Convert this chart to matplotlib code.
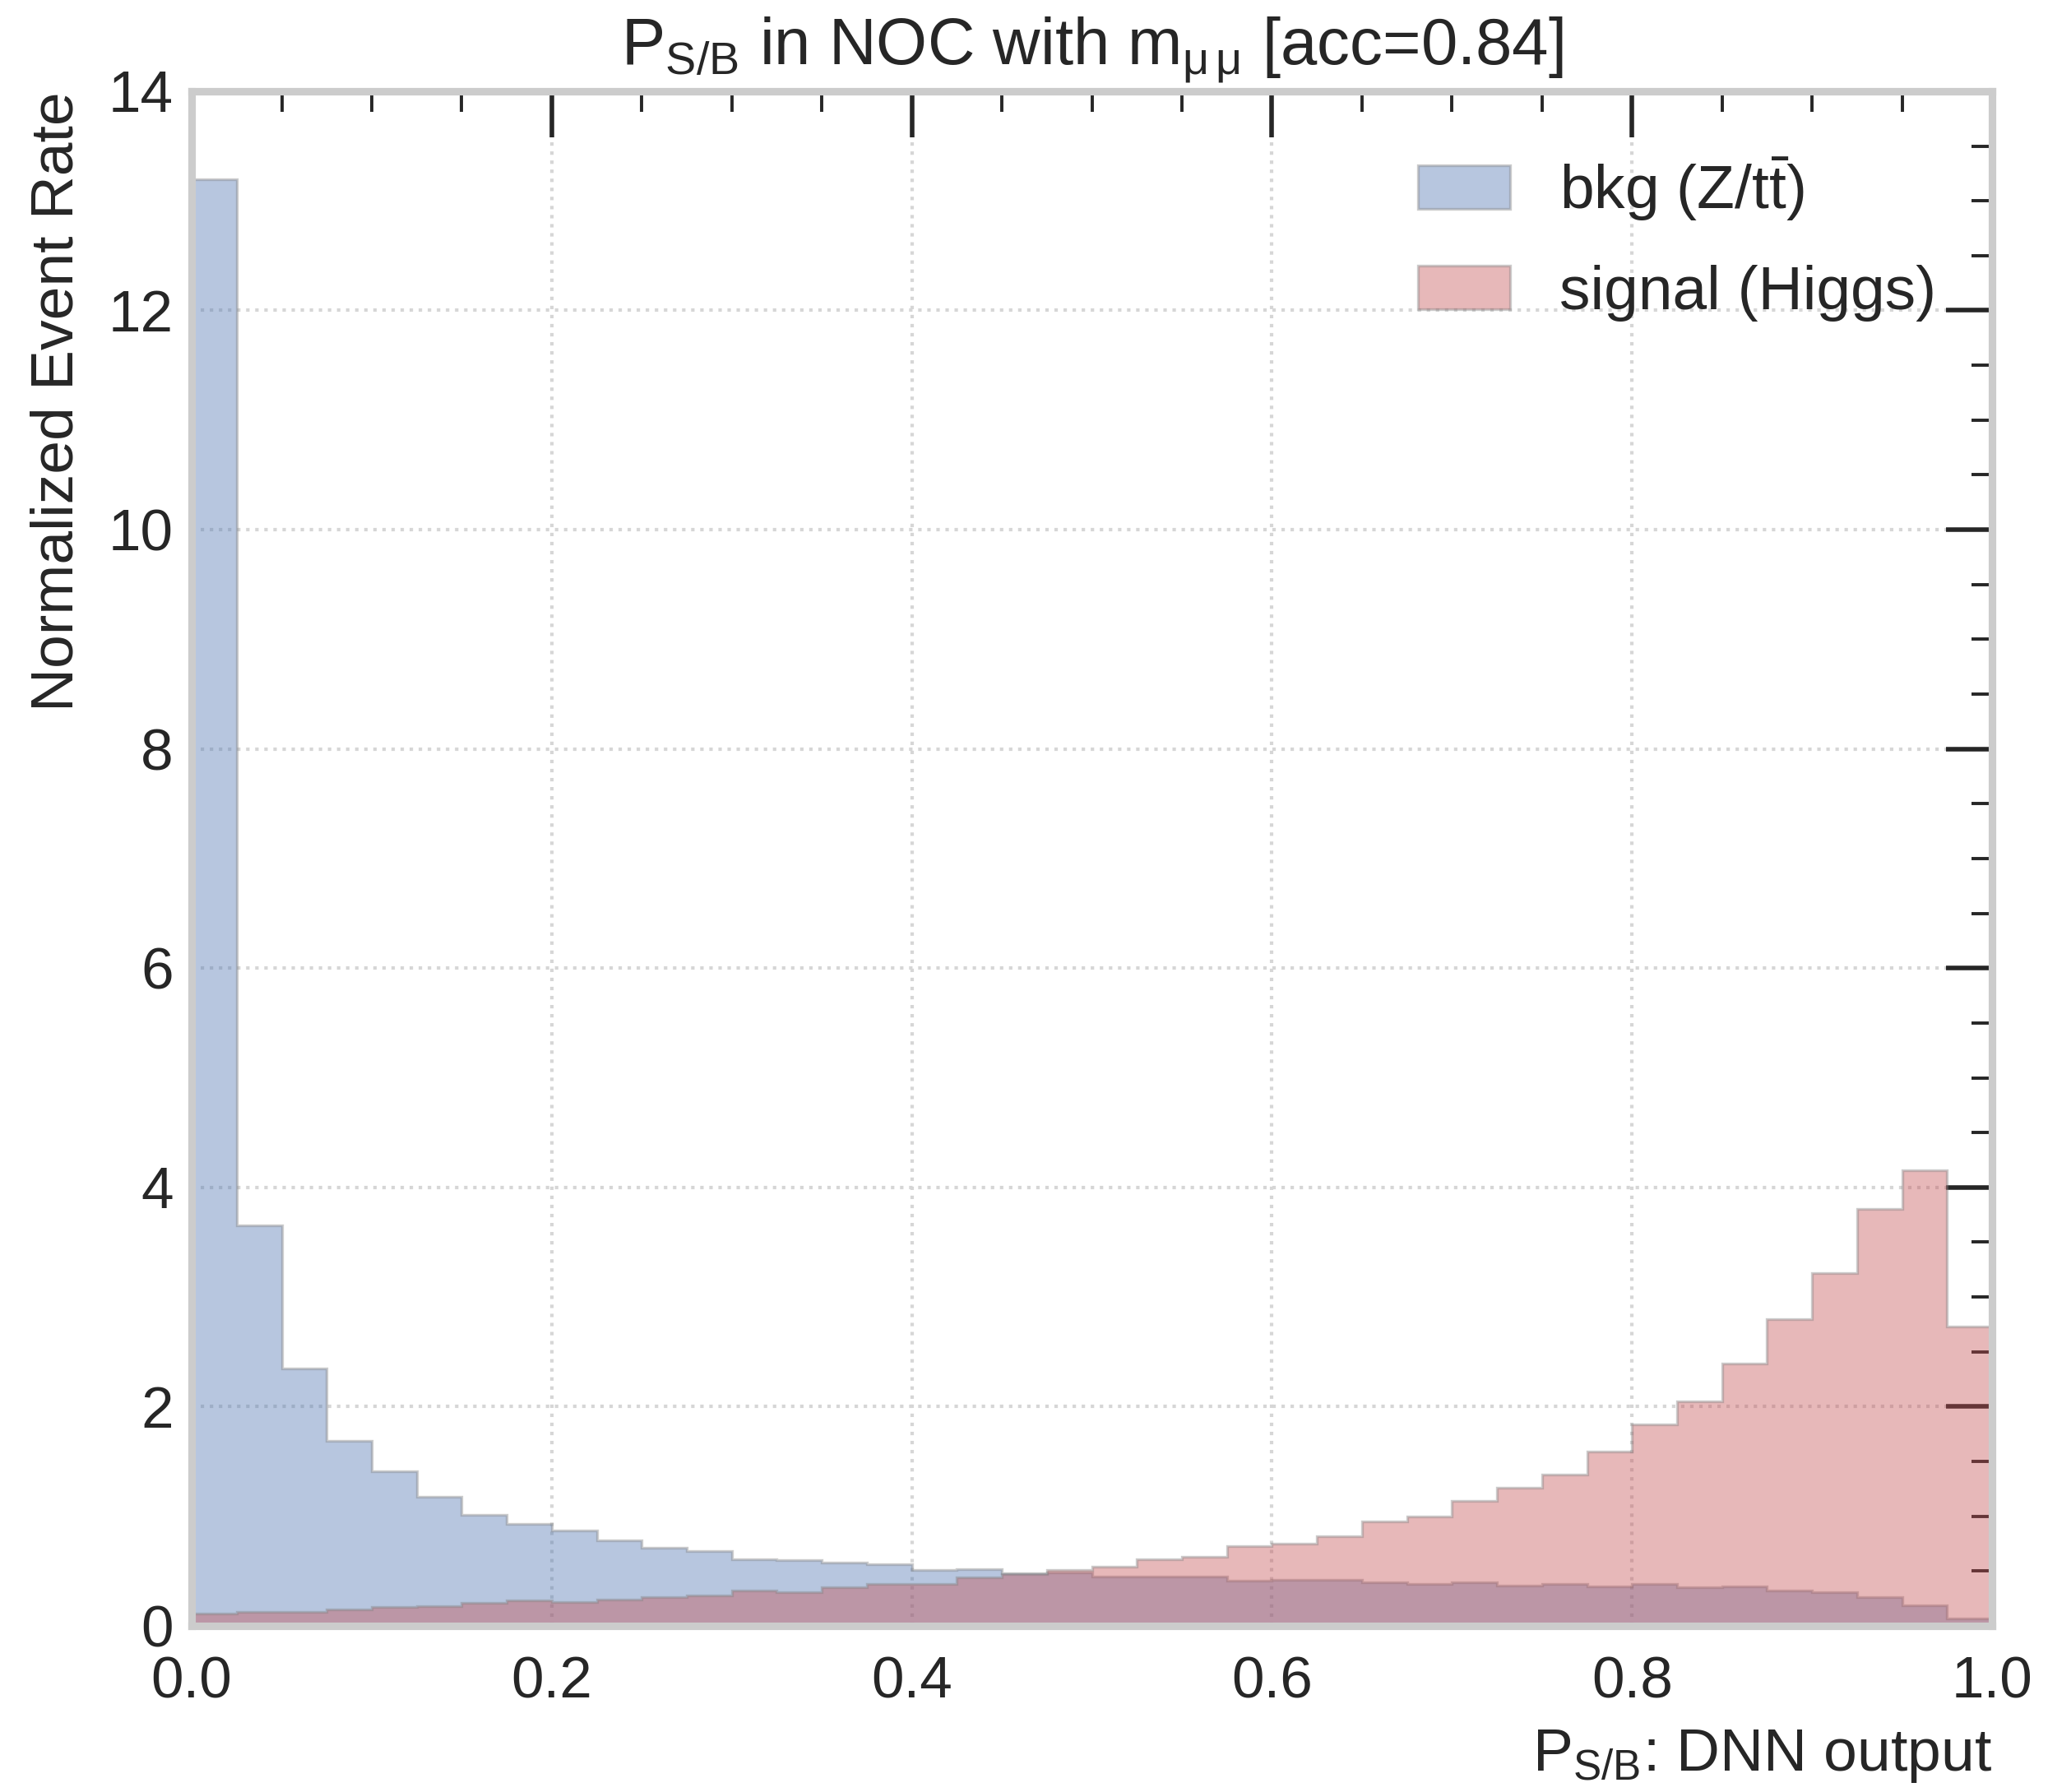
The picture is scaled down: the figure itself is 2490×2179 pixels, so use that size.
import numpy as np
import matplotlib
matplotlib.use("Agg")
import matplotlib.pyplot as plt
from matplotlib.ticker import MultipleLocator

# DNN output binning: 40 bins over [0, 1]
bin_edges = np.linspace(0.0, 1.0, 41)

# normalized event rate per bin
bkg_rate = [13.2, 3.65, 2.35, 1.69, 1.41, 1.18, 1.01, 0.93, 0.87, 0.78,
            0.71, 0.68, 0.61, 0.60, 0.58, 0.56, 0.51, 0.52, 0.48, 0.49,
            0.45, 0.45, 0.45, 0.41, 0.42, 0.42, 0.40, 0.38, 0.40, 0.37,
            0.38, 0.36, 0.38, 0.35, 0.36, 0.32, 0.31, 0.26, 0.19, 0.07]
signal_rate = [0.11, 0.13, 0.13, 0.15, 0.17, 0.18, 0.21, 0.23, 0.22, 0.24,
               0.26, 0.28, 0.32, 0.31, 0.35, 0.38, 0.38, 0.44, 0.47, 0.51,
               0.54, 0.61, 0.63, 0.73, 0.75, 0.82, 0.95, 1.00, 1.14, 1.26,
               1.38, 1.59, 1.84, 2.05, 2.39, 2.80, 3.22, 3.80, 4.16, 2.73]

labels = [r"bkg (Z/$\mathrm{t\bar{t}}$)", "signal (Higgs)"]
colors = ["#4C72B0", "#C44E52"]

plt.rcParams["font.family"] = ["Liberation Sans", "DejaVu Sans"]
plt.rcParams["mathtext.fontset"] = "custom"
plt.rcParams["mathtext.rm"] = "Liberation Sans"
plt.rcParams["mathtext.it"] = "Liberation Sans:italic"
plt.rcParams["text.color"] = "#262626"
plt.rcParams["axes.labelcolor"] = "#262626"


def plot_histograms():
    fig = plt.figure(figsize=(12.45, 10.895), dpi=200)
    ax = fig.add_axes([0.0936, 0.0927, 0.8791, 0.8564])

    for rate, color, label in zip([bkg_rate, signal_rate], colors, labels):
        ax.hist(bin_edges[:-1], bins=bin_edges, weights=rate,
                histtype="stepfilled", color=color, alpha=0.4,
                edgecolor="gray", linewidth=1.2, label=label)

    ax.set_xlim(0, 1)
    ax.set_ylim(0, 14)
    ax.set_axisbelow(True)

    ax.xaxis.set_major_locator(MultipleLocator(0.2))
    ax.xaxis.set_minor_locator(MultipleLocator(0.05))
    ax.yaxis.set_major_locator(MultipleLocator(2))
    ax.yaxis.set_minor_locator(MultipleLocator(0.5))

    # ticks only on top and right, pointing inward
    ax.tick_params(which="both", direction="in", color="#262626",
                   top=True, right=True, bottom=False, left=False,
                   labelsize=25.6, labelcolor="#262626")
    ax.tick_params(which="major", length=20, width=2)
    ax.tick_params(which="minor", length=9, width=1.4)
    ax.tick_params(axis="x", pad=13)
    ax.tick_params(axis="y", pad=8)

    ax.grid(True, which="major", linestyle=":", color="#d6d6d6", linewidth=1.5)
    for spine in ax.spines.values():
        spine.set_color("#cccccc")
        spine.set_linewidth(3.3)

    ax.set_title(r"$\mathrm{P_{S/B}}$ in NOC with $\mathrm{m_{\mu\,\mu}}$ [acc=0.84]",
                 fontsize=28.7, pad=12)
    ax.set_xlabel(r"$\mathrm{P_{S/B}}$: DNN output", fontsize=26.4,
                  loc="right", labelpad=8)
    ax.set_ylabel("Normalized Event Rate", fontsize=26.4, loc="top", labelpad=10)

    ax.legend(loc="upper right", bbox_to_anchor=(1.0, 0.994), frameon=False,
              fontsize=27, handlelength=1.5, handleheight=0.7,
              handletextpad=0.8, labelspacing=0.68)

    fig.savefig("out.png", dpi=200)


def main():
    plot_histograms()


if __name__ == "__main__":
    main()
